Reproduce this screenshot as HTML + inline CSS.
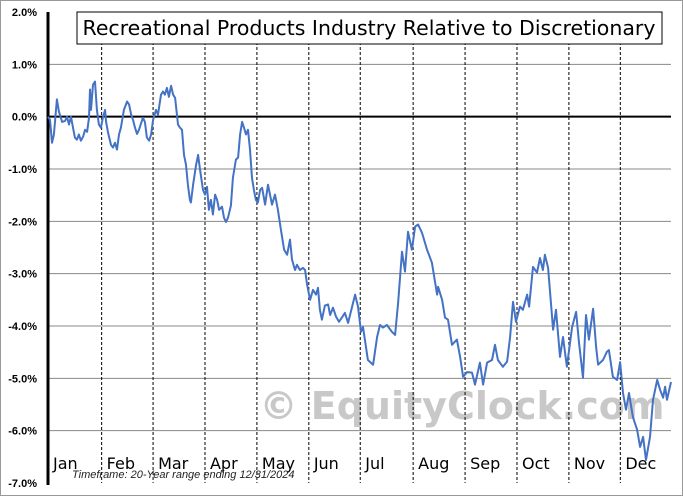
<!DOCTYPE html>
<html><head><meta charset="utf-8"><style>
body{margin:0;background:#fff}
svg{display:block;font-family:"Liberation Sans",sans-serif}
</style></head><body>
<svg width="683" height="496" id="c">
<rect x="0.5" y="0.5" width="682" height="495" fill="#fff" stroke="#999"/>
<text x="462" y="419" font-size="38" font-weight="bold" fill="#c8c8c8" text-anchor="middle" font-family="DejaVu Sans, sans-serif">© EquityClock.com</text>
<g id="grid"></g>
<g id="series"></g>
<rect x="77" y="12" width="585" height="32" fill="#fff" stroke="#000"/>
<text x="369" y="35" font-size="20.5" text-anchor="middle" font-family="DejaVu Sans, sans-serif">Recreational Products Industry Relative to Discretionary</text>
<text x="72" y="478" font-size="11" font-style="italic" fill="#222">Timeframe: 20-Year range ending 12/31/2024</text>
</svg>
<script>
const yTicks=[2,1,0,-1,-2,-3,-4,-5,-6,-7];
const months=["Jan","Feb","Mar","Apr","May","Jun","Jul","Aug","Sep","Oct","Nov","Dec"];
const monthStartDays=[0,21.7,42.5,63.5,84.5,105.5,126.3,147.7,168.7,189.7,210.7,231.5,252];
const days=[0,0.8,1.6,2.4,3.6,4.4,5.7,6.9,7.7,8.5,9.3,10.1,10.9,11.7,12.5,13.3,14.2,15,15.8,16.6,17,17.4,18.2,19,19.8,20.6,21.4,22.2,23.1,23.5,24.3,25.5,26.3,27.1,27.9,28.7,29.5,30.7,32,32.8,33.6,34.4,35.2,36,36.8,37.6,38.4,39.2,40,40.9,41.7,42.5,43.7,44.5,45.7,46.5,47.3,48.1,48.9,49.8,50.6,51.4,52.6,53.4,54.2,55,55.8,56.6,57.4,57.8,58.7,59.9,60.7,61.5,62.7,63.5,64.3,65.1,65.9,66.7,67.6,68.4,69.2,70.4,71.2,72,72.8,74,74.8,76,76.9,77.7,78.5,79.3,80.1,80.9,81.7,82.5,83.3,84.1,84.9,85.8,86.6,87.8,89,90.6,91.8,93,94.2,95.5,96.7,97.9,98.7,99.9,100.7,101.9,103.1,104,104.8,106,107.2,108.4,109.2,110,110.8,112,113.3,114.1,115.3,116.5,117.7,118.9,120.1,121.4,124.2,125.4,126.6,127.4,129.4,131.5,133.1,134.3,135.5,137.1,139.1,140.4,141.6,143.2,144.4,145.6,147.2,148.5,149.7,151.3,153.3,155.3,157.4,157.8,159.4,160.6,161.8,163.4,165.4,166.7,167.9,169.5,171.5,172.7,174.7,176,177.6,179.6,180.8,182,184,185.7,186.9,188.1,189.3,190.9,192.1,193.8,194.6,196.2,197.8,199,200.2,201,202.3,204.3,205.5,207.1,208.3,209.9,212,213.6,214.8,216.4,217.6,218.8,220.5,221.7,222.5,224.5,226.1,226.9,228.5,230.2,231.4,232.6,233.8,235,236.6,238.3,239.5,240.7,241.9,243.5,244.7,246.4,247.6,248.8,249.6,250.4,252];
const values=[0,-0.06,-0.5,-0.34,0.33,0.1,-0.1,-0.08,0,-0.15,0,-0.21,-0.4,-0.44,-0.34,-0.46,-0.38,-0.25,-0.29,-0.02,0.52,0.13,0.61,0.67,0.13,-0.15,-0.21,-0.02,0.13,-0.1,-0.31,-0.54,-0.59,-0.5,-0.63,-0.34,-0.21,0.13,0.29,0.23,0.04,-0.06,-0.21,-0.33,-0.25,-0.13,-0.02,-0.1,-0.4,-0.46,-0.34,-0.06,0.13,0.04,0.42,0.48,0.42,0.55,0.38,0.59,0.42,0.36,-0.15,-0.21,-0.25,-0.73,-0.92,-1.3,-1.59,-1.64,-1.3,-0.92,-0.73,-1.01,-1.4,-1.49,-1.34,-1.78,-1.59,-1.87,-1.49,-1.59,-1.78,-1.72,-1.93,-2.01,-1.93,-1.7,-1.17,-0.82,-0.78,-0.34,-0.1,-0.21,-0.34,-0.25,-0.63,-1.17,-1.4,-1.59,-1.64,-1.4,-1.36,-1.68,-1.3,-1.68,-1.49,-1.78,-2.16,-2.54,-2.64,-2.35,-2.73,-2.93,-2.83,-2.93,-2.89,-2.93,-3.21,-3.5,-3.31,-3.4,-3.27,-3.69,-3.88,-3.61,-3.59,-3.79,-3.65,-3.82,-3.92,-3.84,-3.75,-3.94,-3.4,-3.63,-4.11,-4.02,-4.65,-4.74,-4.21,-3.98,-4.03,-3.98,-4.11,-4.17,-3.56,-2.58,-2.96,-2.2,-2.54,-2.1,-2.06,-2.22,-2.54,-2.79,-3.4,-3.25,-3.5,-3.84,-3.88,-4.36,-4.26,-4.59,-4.97,-4.88,-4.89,-5.12,-4.7,-5.12,-4.7,-4.65,-4.36,-4.65,-4.78,-4.68,-4.21,-3.54,-3.92,-3.63,-3.69,-3.4,-3.63,-2.87,-2.98,-2.7,-2.93,-2.64,-2.89,-4.07,-3.69,-4.59,-4.21,-4.78,-4.02,-3.73,-4.32,-4.99,-3.79,-4.26,-3.67,-4.4,-4.74,-4.65,-4.49,-4.46,-4.97,-5.03,-4.69,-5.28,-5.6,-5.28,-5.74,-5.98,-6.31,-6.12,-6.56,-6.12,-5.41,-5.03,-5.22,-5.37,-5.16,-5.41,-5.07];
const L=48,R=671,T=12,B=483,NS="http://www.w3.org/2000/svg";
const xS=d=>L+(R-L)*d/252;
const yS=v=>T+(B-T)*(2-v)/9;
function mk(tag,attrs,parent,text){const e=document.createElementNS(NS,tag);for(const k in attrs)e.setAttribute(k,attrs[k]);if(text!==undefined)e.textContent=text;parent.appendChild(e);return e;}
const g=document.getElementById('grid');
yTicks.forEach(t=>{
  const y=yS(t);
  if(t!==0&&t!==2&&t!==-7){const ln=mk('line',{x1:L,x2:R,y1:y,y2:y,stroke:'#888','stroke-width':1},g);
  
  }
  const tx=mk('text',{x:37,y:y+4,'font-size':11,'font-weight':'bold','text-anchor':'end'},g,t.toFixed(1)+'%');
  
  
});
for(let i=1;i<monthStartDays.length-1;i++){
  const x=xS(monthStartDays[i]);
  const ln=mk('line',{x1:x,x2:x,y1:T,y2:B,stroke:'#000','stroke-width':1,'stroke-dasharray':'3,2'},g);
  
  
}
months.forEach((m,i)=>{
  const tx=mk('text',{x:xS(monthStartDays[i])+5,y:469,'font-size':16,'font-family':'DejaVu Sans, sans-serif'},g,m);
  
  
});
const z=mk('line',{x1:L,x2:R,y1:yS(0),y2:yS(0),stroke:'#000','stroke-width':2},g);


const ax=mk('line',{x1:L,x2:L,y1:T,y2:B+2,stroke:'#000','stroke-width':3},g);


const s=document.getElementById('series');
const d=days.map((dd,i)=>(i?'L':'M')+xS(dd).toFixed(1)+','+yS(values[i]).toFixed(1)).join('');
const p=mk('path',{d:d,fill:'none',stroke:'#4472c4','stroke-width':2,'stroke-linejoin':'round'},s);


</script>
</body></html>
